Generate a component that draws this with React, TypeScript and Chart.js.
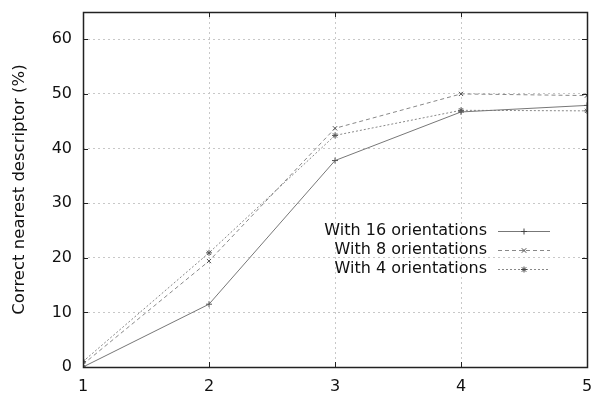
import React, { useEffect, useRef } from "react";
import { Chart, registerables } from "chart.js";

Chart.register(...registerables);

const categories = [1, 2, 3, 4, 5];
const seriesNames = ["With 16 orientations", "With 8 orientations", "With 4 orientations"];
const values16 = [0, 11.5, 37.8, 46.7, 47.9];
const values8 = [0.5, 19.4, 43.7, 50.0, 49.7];
const values4 = [1.0, 20.9, 42.4, 47.0, 46.9];
const yTicks = [0, 10, 20, 30, 40, 50, 60];

const FONT = "'DejaVu Sans', 'Liberation Sans', sans-serif";

function drawMarker(ctx: any, style: string, x: number, y: number, r: number) {
  ctx.beginPath();
  if (style === "cross" || style === "star") {
    ctx.moveTo(x - r, y);
    ctx.lineTo(x + r, y);
    ctx.moveTo(x, y - r);
    ctx.lineTo(x, y + r);
  }
  if (style === "crossRot" || style === "star") {
    const d = r * 0.75;
    ctx.moveTo(x - d, y - d);
    ctx.lineTo(x + d, y + d);
    ctx.moveTo(x - d, y + d);
    ctx.lineTo(x + d, y - d);
  }
  ctx.stroke();
}

const framePlugin = {
  id: "frame",
  afterDatasetsDraw(chart: any) {
    const { ctx, chartArea: a, scales } = chart;
    ctx.save();
    ctx.strokeStyle = "#222";
    ctx.lineWidth = 1;
    ctx.setLineDash([]);
    ctx.beginPath();
    for (const v of yTicks) {
      const y = Math.round(scales.y.getPixelForValue(v)) + 0.5;
      ctx.moveTo(a.left, y);
      ctx.lineTo(a.left + 5, y);
      ctx.moveTo(a.right, y);
      ctx.lineTo(a.right - 5, y);
    }
    for (const v of categories) {
      const x = Math.round(scales.x.getPixelForValue(v)) + 0.5;
      ctx.moveTo(x, a.bottom);
      ctx.lineTo(x, a.bottom - 5);
      ctx.moveTo(x, a.top);
      ctx.lineTo(x, a.top + 5);
    }
    ctx.stroke();
    ctx.lineWidth = 1.5;
    ctx.strokeRect(
      Math.round(a.left) + 0.5,
      Math.round(a.top) + 0.5,
      Math.round(a.right - a.left),
      Math.round(a.bottom - a.top)
    );

    // legend, gnuplot style: right-aligned text, sample to the right
    ctx.font = `16px ${FONT}`;
    ctx.textAlign = "right";
    ctx.textBaseline = "middle";
    const textRight = a.right - 100;
    const x0 = a.right - 89;
    const x1 = a.right - 37;
    chart.data.datasets.forEach((ds: any, i: number) => {
      const y = 231 + i * 19;
      ctx.fillStyle = "#111";
      ctx.fillText(ds.label, textRight, y);
      ctx.strokeStyle = ds.borderColor;
      ctx.lineWidth = 1;
      ctx.setLineDash(ds.borderDash || []);
      ctx.beginPath();
      ctx.moveTo(x0, y + 0.5);
      ctx.lineTo(x1, y + 0.5);
      ctx.stroke();
      ctx.setLineDash([]);
      ctx.strokeStyle = "#444";
      drawMarker(ctx, ds.pointStyle, a.right - 63, y + 0.5, 3);
    });
    ctx.restore();
  },
};

export default function App() {
  const ref = useRef<HTMLCanvasElement>(null);
  useEffect(() => {
    const mk = (vals: number[]) => categories.map((c, i) => ({ x: c, y: vals[i] }));
    const chart = new Chart(ref.current!, {
      type: "line",
      data: {
        datasets: [
          {
            label: seriesNames[0],
            data: mk(values16),
            borderColor: "#777",
            borderWidth: 1,
            borderDash: [],
            pointStyle: "cross",
            pointRadius: 3,
            pointBorderColor: "#555",
            pointBorderWidth: 1,
          },
          {
            label: seriesNames[1],
            data: mk(values8),
            borderColor: "#888",
            borderWidth: 1,
            borderDash: [4, 3],
            pointStyle: "crossRot",
            pointRadius: 3,
            pointBorderColor: "#555",
            pointBorderWidth: 1,
          },
          {
            label: seriesNames[2],
            data: mk(values4),
            borderColor: "#888",
            borderWidth: 1,
            borderDash: [2, 2],
            pointStyle: "star",
            pointRadius: 3,
            pointBorderColor: "#555",
            pointBorderWidth: 1,
          },
        ] as any,
      },
      options: {
        animation: false,
        responsive: false,
        devicePixelRatio: 1,
        layout: { padding: { top: 12, right: 5, left: 0, bottom: 0 } },
        plugins: { legend: { display: false }, tooltip: { enabled: false } },
        scales: {
          x: {
            type: "linear",
            min: 1,
            max: 5,
            afterBuildTicks: (s: any) => {
              s.ticks = categories.map((v) => ({ value: v }));
            },
            afterFit: (s: any) => {
              s.height = 27;
              s.paddingLeft = 0;
              s.paddingRight = 0;
            },
            grid: { color: "#c8c8c8", drawTicks: false, lineWidth: 1 },
            border: { display: false, dash: [2, 3] },
            ticks: {
              color: "#111",
              font: { family: FONT, size: 16 },
              padding: 10,
              maxRotation: 0,
            },
          },
          y: {
            type: "linear",
            min: 0,
            max: 65,
            afterBuildTicks: (s: any) => {
              s.ticks = yTicks.map((v) => ({ value: v }));
            },
            afterFit: (s: any) => {
              s.width = 83;
              s.paddingTop = 0;
              s.paddingBottom = 0;
            },
            grid: { color: "#c8c8c8", drawTicks: false, lineWidth: 1 },
            border: { display: false, dash: [2, 3] },
            ticks: {
              color: "#111",
              font: { family: FONT, size: 16 },
              padding: 11,
            },
            title: {
              display: true,
              text: "Correct nearest descriptor (%)",
              color: "#111",
              font: { family: FONT, size: 16.5 },
              padding: { top: 10, bottom: 0 },
            },
          },
        },
      },
      plugins: [framePlugin],
    });
    return () => chart.destroy();
  }, []);
  return (
    <div style={{ position: "fixed", left: 0, top: 0, width: 592, height: 394, background: "#fff" }}>
      <canvas ref={ref} width={592} height={394} style={{ width: 592, height: 394 }} />
    </div>
  );
}
